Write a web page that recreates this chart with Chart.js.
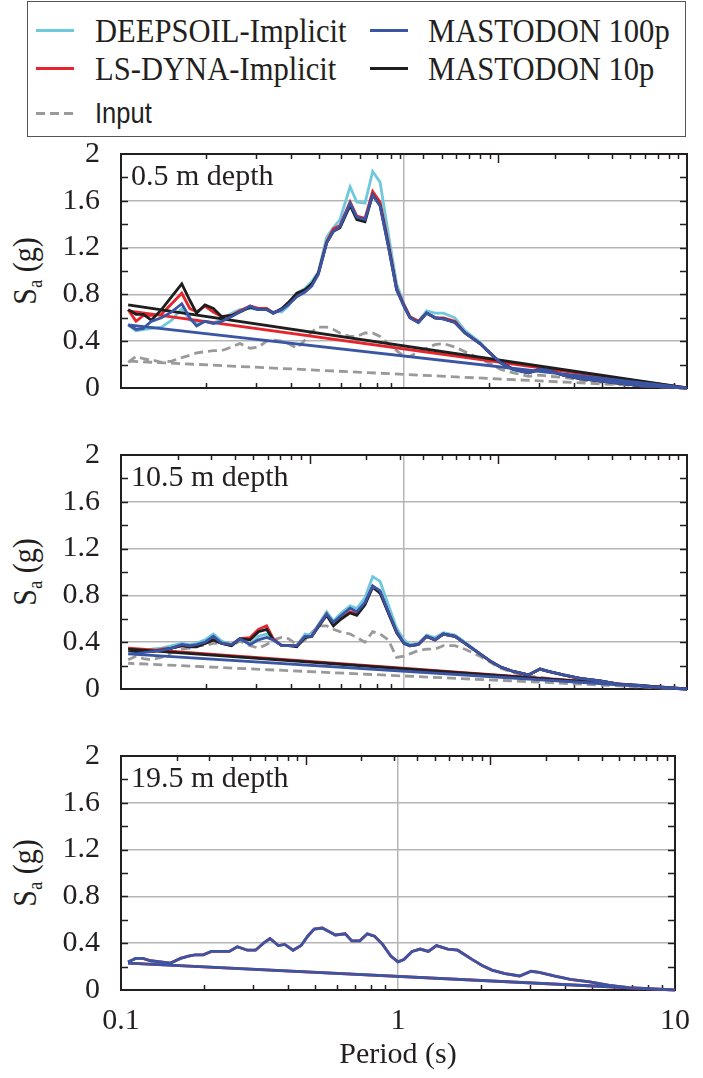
<!DOCTYPE html>
<html>
<head>
<meta charset="utf-8">
<title>Response spectra at depth</title>
<script src="https://cdn.jsdelivr.net/npm/chart.js"></script>
<style>
  body { margin: 0; width: 703px; height: 1078px; position: relative; overflow: hidden; background: #fff;
         font-family: "Liberation Serif", "Times New Roman", serif; color: #231f20; }
  canvas { position: absolute; left: 0; }
  .legend { position: absolute; left: 27px; top: 1px; width: 659px; height: 136px; border: 1.5px solid #555; box-sizing: border-box; }
  .key { position: absolute; height: 3px; width: 38px; }
  .txt { position: absolute; font-size: 30px; line-height: 30px; white-space: nowrap;
         transform: scale(1.02, 1.15); transform-origin: left center; }
  .ylab { position: absolute; left: 27px; font-size: 30px; line-height: 30px; white-space: nowrap;
          transform: translate(-50%, -50%) rotate(-90deg) scale(1, 1.1); }
  .ylab sub { font-size: 19px; vertical-align: baseline; position: relative; top: 6px; }
</style>
</head>
<body>
<div class="legend"></div>
<div class="key" style="left:36px;top:29px;background:#6fc9dc"></div>
<div class="txt" style="left:95px;top:15px">DEEPSOIL-Implicit</div>
<div class="key" style="left:36px;top:67px;background:#e5252b"></div>
<div class="txt" style="left:95px;top:53px">LS-DYNA-Implicit</div>
<div class="key" style="left:36px;top:112px;background:repeating-linear-gradient(90deg,#9a9a9a 0 9px,transparent 9px 14px)"></div>
<div class="txt" style="left:95px;top:98px;font-family:'Liberation Sans',Arial,sans-serif;font-size:25px">Input</div>
<div class="key" style="left:370px;top:29px;background:#3b55a5"></div>
<div class="txt" style="left:428px;top:15px">MASTODON 100p</div>
<div class="key" style="left:370px;top:67px;background:#1e1e1e"></div>
<div class="txt" style="left:428px;top:53px">MASTODON 10p</div>

<div class="ylab" style="top:271px">S<sub>a</sub> (g)</div>
<div class="ylab" style="top:572px">S<sub>a</sub> (g)</div>
<div class="ylab" style="top:873px">S<sub>a</sub> (g)</div>

<canvas id="c1" width="703" height="268" style="top:140px"></canvas>
<canvas id="c2" width="703" height="268" style="top:441px"></canvas>
<canvas id="c3" width="703" height="336" style="top:742px"></canvas>

<script>
// periods (s) shared by all curves
const periods = [0.106, 0.113, 0.12, 0.128, 0.139, 0.151, 0.164, 0.175, 0.185, 0.198, 0.212, 0.227, 0.246, 0.263,
  0.286, 0.306, 0.327, 0.345, 0.37, 0.39, 0.418, 0.447, 0.472, 0.498, 0.533, 0.563, 0.594, 0.645, 0.681, 0.728,
  0.775, 0.823, 0.88, 0.942, 1.0, 1.05, 1.124, 1.202, 1.287, 1.377, 1.514, 1.643, 1.856, 2.013, 2.184, 2.434,
  2.75, 3.024, 3.236, 3.656, 4.188, 4.927, 5.8, 6.824, 8.25, 10];
const xTickLabels = [0.1, 1, 10];
const yTickLabels = [0, 0.4, 0.8, 1.2, 1.6, 2];
const panelNames = ['0.5 m depth', '10.5 m depth', '19.5 m depth'];

// 0.5 m depth
const d1Deepsoil = [0.54,0.49,0.50,0.51,0.52,0.58,0.68,0.58,0.56,0.57,0.56,0.58,0.64,0.67,0.68,0.67,0.68,0.65,0.65,0.70,
  0.81,0.85,0.91,0.99,1.29,1.37,1.44,1.72,1.59,1.58,1.85,1.76,1.32,0.89,0.72,
  0.61,0.57,0.66,0.64,0.64,0.60,0.49,0.39,0.30,0.22,0.15,0.13,0.15,0.15,0.11,0.08,0.06,0.04,0.02,0.01,0];
const d1Lsdyna = [0.67,0.57,0.62,0.62,0.63,0.72,0.81,0.68,0.65,0.70,0.65,0.61,0.62,0.66,0.70,0.68,0.68,0.64,0.67,0.72,
  0.79,0.84,0.88,0.98,1.25,1.36,1.39,1.59,1.47,1.45,1.68,1.59,1.24,0.85,0.71,
  0.61,0.57,0.64,0.60,0.60,0.57,0.47,0.38,0.30,0.22,0.16,0.13,0.16,0.15,0.11,0.08,0.06,0.04,0.02,0.01,0];
const d1Mast10 = [0.67,0.63,0.63,0.58,0.67,0.78,0.89,0.75,0.64,0.71,0.68,0.61,0.62,0.65,0.69,0.67,0.67,0.64,0.68,0.73,
  0.81,0.84,0.89,0.98,1.24,1.34,1.37,1.56,1.44,1.42,1.65,1.56,1.22,0.84,0.70,
  0.60,0.56,0.64,0.60,0.59,0.56,0.47,0.38,0.30,0.22,0.16,0.13,0.16,0.15,0.11,0.08,0.06,0.04,0.02,0.01,0];
const d1Mast100 = [0.54,0.50,0.51,0.57,0.60,0.65,0.72,0.60,0.53,0.57,0.55,0.57,0.61,0.65,0.70,0.67,0.67,0.64,0.67,0.71,
  0.78,0.82,0.87,0.97,1.24,1.34,1.38,1.58,1.46,1.44,1.65,1.56,1.21,0.84,0.70,
  0.60,0.56,0.64,0.60,0.59,0.56,0.47,0.38,0.30,0.22,0.16,0.13,0.16,0.15,0.11,0.08,0.06,0.04,0.02,0.01,0];
const d1Input = [0.22,0.27,0.25,0.24,0.22,0.23,0.26,0.28,0.30,0.31,0.32,0.32,0.35,0.38,0.34,0.35,0.40,0.41,0.40,0.38,
  0.34,0.41,0.48,0.52,0.52,0.50,0.47,0.44,0.44,0.47,0.47,0.44,0.38,0.32,0.27,
  0.27,0.31,0.34,0.37,0.38,0.35,0.31,0.25,0.21,0.16,0.13,0.10,0.11,0.10,0.09,0.07,0.05,0.03,0.02,0.01,0];
// value the trace jumps back to at the shortest period (null = no jump)
const d1Return = [null, 0.66, 0.71, 0.54, 0.23];

// 10.5 m depth
const d2Deepsoil = [0.30,0.31,0.32,0.34,0.35,0.37,0.39,0.38,0.39,0.42,0.47,0.41,0.38,0.43,0.38,0.45,0.47,0.43,0.37,0.37,
  0.37,0.47,0.46,0.55,0.66,0.58,0.64,0.71,0.69,0.78,0.96,0.92,0.72,0.52,0.42,
  0.38,0.39,0.46,0.44,0.48,0.46,0.40,0.30,0.24,0.19,0.15,0.12,0.17,0.15,0.12,0.09,0.07,0.04,0.03,0.01,0];
const d2Lsdyna = [0.35,0.33,0.32,0.32,0.34,0.35,0.37,0.36,0.37,0.39,0.42,0.39,0.38,0.43,0.44,0.51,0.54,0.43,0.37,0.37,
  0.37,0.45,0.45,0.54,0.64,0.55,0.60,0.66,0.64,0.73,0.88,0.83,0.66,0.49,0.39,
  0.37,0.38,0.45,0.42,0.47,0.45,0.39,0.30,0.24,0.19,0.15,0.12,0.17,0.15,0.12,0.09,0.07,0.04,0.03,0.01,0];
const d2Mast10 = [0.33,0.32,0.32,0.32,0.33,0.35,0.37,0.36,0.36,0.39,0.42,0.39,0.37,0.43,0.42,0.49,0.51,0.42,0.37,0.37,
  0.36,0.44,0.45,0.53,0.63,0.54,0.59,0.65,0.63,0.72,0.87,0.82,0.65,0.48,0.39,
  0.37,0.38,0.45,0.42,0.47,0.45,0.39,0.30,0.24,0.19,0.15,0.12,0.17,0.15,0.12,0.09,0.07,0.04,0.03,0.01,0];
const d2Mast100 = [0.30,0.30,0.31,0.32,0.33,0.35,0.38,0.37,0.38,0.40,0.45,0.39,0.38,0.43,0.38,0.42,0.44,0.42,0.37,0.37,
  0.37,0.45,0.45,0.54,0.64,0.57,0.62,0.69,0.66,0.74,0.88,0.84,0.66,0.49,0.39,
  0.37,0.38,0.45,0.42,0.47,0.45,0.39,0.30,0.24,0.19,0.15,0.12,0.17,0.15,0.12,0.09,0.07,0.04,0.03,0.01,0];
const d2Input = [0.25,0.28,0.26,0.25,0.27,0.31,0.34,0.35,0.37,0.37,0.39,0.39,0.37,0.41,0.37,0.35,0.38,0.42,0.44,0.43,
  0.38,0.42,0.48,0.54,0.54,0.51,0.49,0.47,0.44,0.40,0.49,0.47,0.42,0.27,0.28,
  0.30,0.33,0.34,0.34,0.37,0.37,0.34,0.28,0.23,0.18,0.14,0.11,0.10,0.09,0.08,0.07,0.05,0.04,0.03,0.01,0];
const d2Return = [null, 0.35, 0.34, 0.30, 0.22];

// 19.5 m depth (all simulations overlap)
const d3Mast100 = [0.24,0.27,0.27,0.25,0.24,0.23,0.27,0.29,0.30,0.30,0.33,0.33,0.33,0.37,0.34,0.34,0.40,0.44,0.38,0.39,
  0.34,0.38,0.46,0.52,0.53,0.50,0.47,0.48,0.42,0.42,0.48,0.46,0.39,0.29,0.24,
  0.26,0.33,0.35,0.33,0.38,0.35,0.34,0.26,0.21,0.17,0.14,0.12,0.16,0.15,0.12,0.09,0.07,0.04,0.02,0.01,0];
const d3Lsdyna = d3Mast100;
const d3Return = [null, 0.23, null, 0.23, null];

const ink = '#231f20';
const serif = "'Liberation Serif', 'Times New Roman', serif";
const colors = ['#6fc9dc', '#e5252b', '#1e1e1e', '#3b55a5', '#9a9a9a'];

function makeSet(idx, vals, back) {
  const pts = periods.map((p, i) => ({ x: p, y: vals[i] }));
  if (back !== null && back !== undefined) pts.push({ x: periods[0], y: back });
  return {
    data: pts,
    borderColor: colors[idx],
    borderWidth: 2.8,
    borderDash: idx === 4 ? [9, 5] : [],
    pointRadius: 0,
    tension: 0,
    fill: false,
    clip: false
  };
}

// minor log ticks
const minorX = [];
[0.1, 1].forEach(d => { for (let m = 2; m <= 9; m++) minorX.push(m * d); });
// the top axis has its own (mirrored) log ticks, 2/3 of a decade long
const topMirror = [];
[1, 1 / 3, -1 / 3].forEach(c => {
  for (let m = 2; m <= 9; m++) topMirror.push([Math.pow(10, c - (2 / 3) * (1 - Math.log10(m))), 5]);
});
topMirror.push([Math.pow(10, 1 / 3), 9], [Math.pow(10, -1 / 3), 9]);
const topPanel1 = minorX.filter(v => v < 0.95).map(v => [v, 5]).concat(topMirror.filter(t => t[0] > 0.95));

const framePlugin = {
  id: 'frame',
  beforeDatasetsDraw(chart, args, opts) {
    const { ctx, chartArea: a, scales } = chart;
    const x = scales.x, y = scales.y;
    ctx.save();
    ctx.strokeStyle = ink;
    ctx.lineWidth = 1.5;
    ctx.beginPath();
    for (let k = 1; k < 10; k++) {
      const py = Math.round(y.getPixelForValue(k * 0.2)) + 0.5;
      ctx.moveTo(a.left, py); ctx.lineTo(a.left + 7, py);
      ctx.moveTo(a.right, py); ctx.lineTo(a.right - 7, py);
    }
    minorX.forEach(v => {
      const px = Math.round(x.getPixelForValue(v)) + 0.5;
      ctx.moveTo(px, a.bottom); ctx.lineTo(px, a.bottom - 5);
    });
    opts.top.forEach(([v, len]) => {
      const px = Math.round(x.getPixelForValue(v)) + 0.5;
      ctx.moveTo(px, a.top); ctx.lineTo(px, a.top + len);
    });
    ctx.stroke();
    ctx.lineWidth = 2;
    ctx.strokeRect(a.left, a.top, a.right - a.left, a.bottom - a.top);
    ctx.fillStyle = ink;
    ctx.font = '30px ' + serif;
    ctx.textBaseline = 'alphabetic';
    ctx.fillText(opts.label, a.left + 10, a.top + 31);
    ctx.restore();
  }
};

function makeChart(id, sets, name, top, showX) {
  return new Chart(document.getElementById(id), {
    type: 'line',
    data: { datasets: sets },
    plugins: [framePlugin],
    options: {
      responsive: false,
      animation: false,
      devicePixelRatio: 1,
      layout: { padding: { left: 0, right: 16, top: 14, bottom: 0 } },
      plugins: { legend: { display: false }, tooltip: { enabled: false }, frame: { label: name, top: top } },
      scales: {
        x: {
          type: 'logarithmic',
          min: 0.1,
          max: 10,
          afterBuildTicks: s => { s.ticks = xTickLabels.map(v => ({ value: v })); },
          afterFit: s => { s.height = showX ? 88 : 20; },
          border: { display: false },
          grid: { drawTicks: false, lineWidth: 1.5, color: c => (c.tick && c.tick.value === 1) ? '#b5b5b5' : 'rgba(0,0,0,0)' },
          ticks: {
            display: showX,
            padding: 13,
            maxRotation: 0,
            autoSkip: false,
            color: ink,
            font: { family: serif, size: 30 },
            callback: v => String(v)
          },
          title: {
            display: showX,
            text: 'Period (s)',
            color: ink,
            font: { family: serif, size: 30 },
            padding: { top: 0, bottom: 5 }
          }
        },
        y: {
          type: 'linear',
          min: 0,
          max: 2,
          afterBuildTicks: s => { s.ticks = yTickLabels.map(v => ({ value: v })); },
          afterFit: s => { s.width = 121; s.paddingTop = 0; s.paddingBottom = 0; },
          border: { display: false },
          grid: { drawTicks: false, lineWidth: 1.5, color: c => (c.tick && c.tick.value > 0 && c.tick.value < 2) ? '#b5b5b5' : 'rgba(0,0,0,0)' },
          ticks: {
            padding: 21,
            color: ink,
            font: { family: serif, size: 30, lineHeight: 1 },
            callback: v => String(+v.toFixed(1))
          }
        }
      }
    }
  });
}

// first dataset is drawn on top
makeChart('c1', [
  makeSet(3, d1Mast100, d1Return[3]),
  makeSet(2, d1Mast10, d1Return[2]),
  makeSet(1, d1Lsdyna, d1Return[1]),
  makeSet(0, d1Deepsoil, d1Return[0]),
  makeSet(4, d1Input, d1Return[4])
], panelNames[0], topPanel1, false);

makeChart('c2', [
  makeSet(3, d2Mast100, d2Return[3]),
  makeSet(2, d2Mast10, d2Return[2]),
  makeSet(1, d2Lsdyna, d2Return[1]),
  makeSet(0, d2Deepsoil, d2Return[0]),
  makeSet(4, d2Input, d2Return[4])
], panelNames[1], topMirror, false);

makeChart('c3', [
  makeSet(3, d3Mast100, d3Return[3]),
  makeSet(1, d3Lsdyna, d3Return[1])
], panelNames[2], topMirror, true);
</script>
</body>
</html>
